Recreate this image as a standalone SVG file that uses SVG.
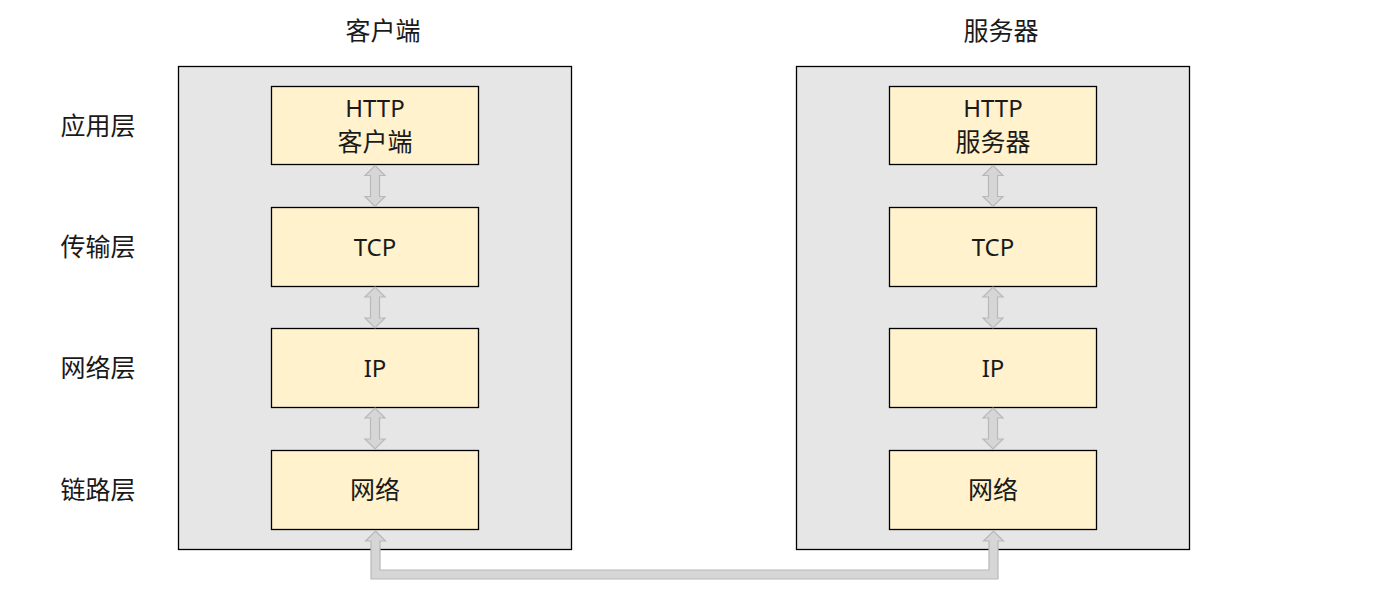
<svg xmlns="http://www.w3.org/2000/svg" width="1380" height="610" viewBox="0 0 1380 610">
<style>
.outer{fill:#e6e6e6;stroke:#000;stroke-width:1.3}
.inner{fill:#fff2cc;stroke:#000;stroke-width:1.3}
.t{font-family:"Noto Sans CJK SC","Noto Sans",sans-serif;font-size:25px;fill:#1a1a1a;text-anchor:middle}
.lat{font-family:"Noto Sans",sans-serif;font-size:24px}
.arr{fill:#d6d6d6;stroke:#b8b8b8;stroke-width:1.2}
</style>
<defs>
<path id="da" d="M0,0 L10,10 L4.5,10 L4.5,31 L10,31 L0,41 L-10,31 L-4.5,31 L-4.5,10 L-10,10 Z"/>
</defs>
<rect width="1380" height="610" fill="#fff"/>
<g id="labels">
<text class="t" x="383" y="40">客户端</text>
<text class="t" x="1001" y="40">服务器</text>
<text class="t" x="98" y="135">应用层</text>
<text class="t" x="98" y="256">传输层</text>
<text class="t" x="98" y="377">网络层</text>
<text class="t" x="98" y="499">链路层</text>
</g>
<g id="client">
<rect class="outer" x="178.5" y="66.5" width="393" height="483"/>
</g>
<g id="server">
<rect class="outer" x="796.5" y="66.5" width="393" height="483"/>
</g>
<g id="c-http"><rect class="inner" x="271.5" y="86.5" width="207" height="78"/><text class="t lat" x="375" y="117">HTTP</text><text class="t" x="375" y="151">客户端</text></g>
<g id="c-tcp"><rect class="inner" x="271.5" y="207.5" width="207" height="79"/><text class="t lat" x="375" y="256">TCP</text></g>
<g id="c-ip"><rect class="inner" x="271.5" y="328.5" width="207" height="79"/><text class="t lat" x="375" y="377">IP</text></g>
<g id="c-net"><rect class="inner" x="271.5" y="450.5" width="207" height="79"/><text class="t" x="375" y="499">网络</text></g>
<g id="s-http"><rect class="inner" x="889.5" y="86.5" width="207" height="78"/><text class="t lat" x="993" y="117">HTTP</text><text class="t" x="993" y="151">服务器</text></g>
<g id="s-tcp"><rect class="inner" x="889.5" y="207.5" width="207" height="79"/><text class="t lat" x="993" y="256">TCP</text></g>
<g id="s-ip"><rect class="inner" x="889.5" y="328.5" width="207" height="79"/><text class="t lat" x="993" y="377">IP</text></g>
<g id="s-net"><rect class="inner" x="889.5" y="450.5" width="207" height="79"/><text class="t" x="993" y="499">网络</text></g>
<g id="connectors">
<use href="#da" class="arr" x="375" y="165.5"/>
<use href="#da" class="arr" x="375" y="287"/>
<use href="#da" class="arr" x="375" y="408"/>
<use href="#da" class="arr" x="993" y="165.5"/>
<use href="#da" class="arr" x="993" y="287"/>
<use href="#da" class="arr" x="993" y="408"/>
<path class="arr" d="M375.5,531 L385.5,541 L380,541 L380,570 L989,570 L989,541 L983.5,541 L993.5,531 L1003.5,541 L998,541 L998,579 L371,579 L371,541 L365.5,541 Z"/>
</g>
</svg>
